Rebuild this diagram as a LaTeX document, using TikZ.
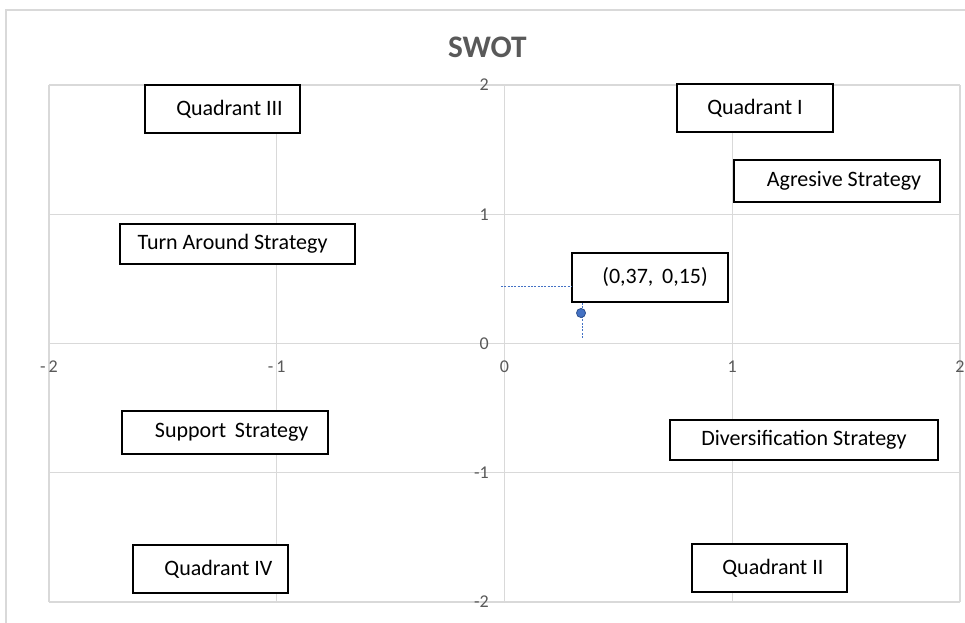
\documentclass[tikz,border=0pt]{standalone}
\usepackage{fontspec}
\setmainfont{Carlito}
\usetikzlibrary{positioning}
\definecolor{gridgray}{HTML}{D9D9D9}
\definecolor{axistext}{HTML}{595959}
\definecolor{pointblue}{HTML}{4472C4}
\definecolor{pointedge}{HTML}{2F528F}

\begin{document}
\begin{tikzpicture}[x=170.81pt, y=96.94pt,
    every node/.style={font=\fontsize{16.5}{20}\selectfont},
    labelbox/.style={draw=black, line width=1.3pt, fill=white, inner sep=0pt},
    padleft/.style={execute at begin node=\hspace*{#1}},
    padright/.style={execute at end node=\hspace*{#1}},
    ticklabel/.style={font=\fontsize{13.5}{16}\selectfont, text=axistext, inner sep=0pt},
    gridline/.style={draw=gridgray, line width=1.1pt},
    leader/.style={draw=pointblue, line width=0.5pt, dash pattern=on 1.5pt off 1pt}]
    \clip (-2.2151,-2.1547) rectangle (2.0220,2.6576);
    \fill[white] (-2.2151,-2.1547) rectangle (2.0220,2.6576);
    \draw[gridline] (-2.1888,-2.5) rectangle (2.5,2.5803);
    \node[font=\bfseries\fontsize{23.5}{28}\selectfont, text=axistext] (title) at (-0.075,2.294) {SWOT};
    \foreach \v in {-2,...,2} {
        \draw[gridline] (\v,-2) -- (\v,2);
        \draw[gridline] (-2,\v) -- (2,\v);
        \node[ticklabel, anchor=east] (ytick\v) at (-0.068,\v) {\v};
    }
    \foreach \v/\t in {-2/{-\,2}, -1/{-\,1}, 0/0, 1/1, 2/2}
        \node[ticklabel] (xtick\v) at (\v,-0.182) {\t};
    \node[labelbox, padleft=10.5pt, minimum width=116.25pt, minimum height=36pt] (quadIII) at (-1.238,1.814) {Quadrant III};
    \node[labelbox, minimum width=117pt, minimum height=36pt] (quadI) at (1.100,1.822) {Quadrant I};
    \node[labelbox, padleft=10.5pt, minimum width=154.5pt, minimum height=31.5pt] (agresive) at (1.460,1.257) {Agresive Strategy};
    \node[labelbox, padright=7.5pt, minimum width=176.25pt, minimum height=30pt] (turnaround) at (-1.172,0.770) {Turn Around Strategy};
    \node[labelbox, padleft=10pt, minimum width=154.5pt, minimum height=32.25pt] (support) at (-1.227,-0.689) {Support\, Strategy};
    \node[labelbox, minimum width=201pt, minimum height=30pt] (diversification) at (1.315,-0.747) {Diversification Strategy};
    \node[labelbox, padleft=12pt, minimum width=116.25pt, minimum height=36pt] (quadIV) at (-1.291,-1.745) {Quadrant IV};
    \node[labelbox, padleft=5pt, minimum width=116.25pt, minimum height=36pt] (quadII) at (1.164,-1.737) {Quadrant II};
    \node[labelbox, padleft=7.5pt, minimum width=117pt, minimum height=36.75pt] (ptlabel) at (0.639,0.511) {(0,37,\, 0,15)};
    \coordinate (pt) at (0.336,0.236);
    \draw[leader] (-0.015,0.445) -- (ptlabel.west |- 0,0.445);
    \draw[leader] (ptlabel.south -| 0.340,0) -- (0.340,0.043);
    \filldraw[fill=pointblue, draw=pointedge, line width=0.6pt] (pt) circle (3.4pt);
\end{tikzpicture}
\end{document}
